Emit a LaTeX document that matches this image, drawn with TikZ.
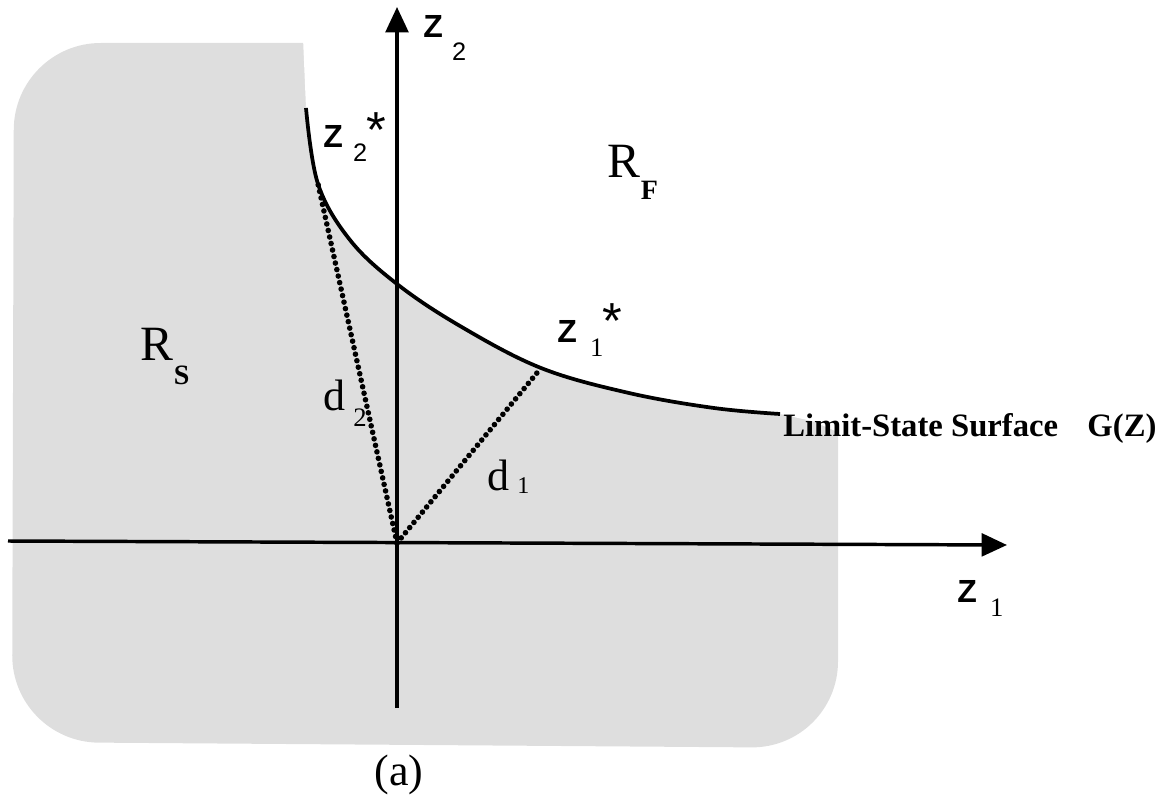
\documentclass[tikz,border=0pt]{standalone}
\usepackage{fontspec}
\setmainfont{Liberation Serif}
\setsansfont{Liberation Sans}[BoldFont={Liberation Sans Bold}]
\usetikzlibrary{arrows.meta}
\newcommand{\subsf}{\sffamily\mdseries\fontsize{19}{19}\selectfont}
\newcommand{\subrm}{\rmfamily\mdseries\fontsize{20}{20}\selectfont}
\newcommand{\starfnt}{\sffamily\mdseries\fontsize{38}{38}\selectfont}

\begin{document}
\begin{tikzpicture}[x=0.75pt, y=-0.75pt,
  axis/.style={line width=2.6pt, -{Triangle[length=19pt, width=17pt]}},
  surface/.style={line width=2.8pt},
  distline/.style={line width=4.2pt, dash pattern=on 0pt off 5pt, line cap=round},
  safezone/.style={fill=black!13},
  zlabel/.style={inner sep=0pt, anchor=base west, font=\sffamily\bfseries\fontsize{24}{24}\selectfont},
  rlabel/.style={inner sep=0pt, anchor=base west, font=\fontsize{37}{37}\selectfont},
  dlabel/.style={inner sep=0pt, anchor=base west, font=\fontsize{33}{33}\selectfont}]

\useasboundingbox (0,0) rectangle (1169,802);

% --- Safe region (shaded) ---
\fill[safezone, rounded corners=65pt] (12,742) -- (14,43) -- (838,43) -- (838,748) -- cycle;
\fill[white] (303,38) -- (306,108)
  -- plot[smooth, tension=0.6] coordinates {(306,108) (318,184) (350,240) (397,284) (460,326) (541,368) (629,393) (714,408) (780,414)}
  -- (812,421) -- (840,433) -- (845,38) -- cycle;

% --- Points ---
\coordinate (O) at (397,543);
\coordinate (z2star) at (318,184);
\coordinate (z1star) at (541,368);
\coordinate (xstart) at (8,541);
\coordinate (xend) at (1007,545);
\coordinate (ystart) at (397,708);
\coordinate (yend) at (397,7);

% --- Axes ---
\draw[axis] (xstart) -- (xend);
\draw[axis] (ystart) -- (yend);

% --- Limit-state surface ---
\draw[surface] plot[smooth, tension=0.6] coordinates {(306,108) (z2star) (350,240) (397,284) (460,326) (z1star) (629,393) (714,408) (780,414)};

% --- Distances ---
\draw[distline] (O) -- (z2star);
\draw[distline] (O) -- (z1star);

% --- Labels ---
\node[zlabel] (z2ax) at (423,38) {Z\hspace{7pt}\raisebox{-17pt}{\subsf 2}};
\node[zlabel] (z1ax) at (957,602) {Z\hspace{10pt}\raisebox{-11pt}{\subrm 1}};

\node[zlabel] (z2s) at (323,148)
  {Z\hspace{7.8pt}\raisebox{-10pt}{\subsf 2}\hspace{-0.5pt}\raisebox{0pt}{\starfnt *}};
\node[zlabel] (z1s) at (557,342)
  {Z\hspace{10pt}\raisebox{-11pt}{\subrm 1}\hspace{-0.5pt}\raisebox{2.5pt}{\starfnt *}};

\node[rlabel] (rf) at (607,178) {R\hspace{0.5pt}\raisebox{-16.5pt}{\bfseries\fontsize{21}{21}\selectfont F}};
\node[rlabel] (rs) at (140,360) {R\hspace{0.5pt}\raisebox{-18.5pt}{\bfseries\fontsize{21}{21}\selectfont S}};

\node[dlabel] (d2) at (323,410) {d\hspace{6pt}\raisebox{-12.5pt}{\subrm 2}};
\node[dlabel] (d1) at (487,490) {d\hspace{6pt}\raisebox{-2.5pt}{\rmfamily\fontsize{18}{18}\selectfont 1}};

\node[inner sep=0pt, anchor=west, font=\bfseries\fontsize{24.5}{24.5}\selectfont] (surf) at (783,428)
  {Limit-State Surface\hspace{22pt}G(Z)};

\node[font=\fontsize{33}{33}\selectfont] (cap) at (399,775) {(a)};

\end{tikzpicture}
\end{document}
